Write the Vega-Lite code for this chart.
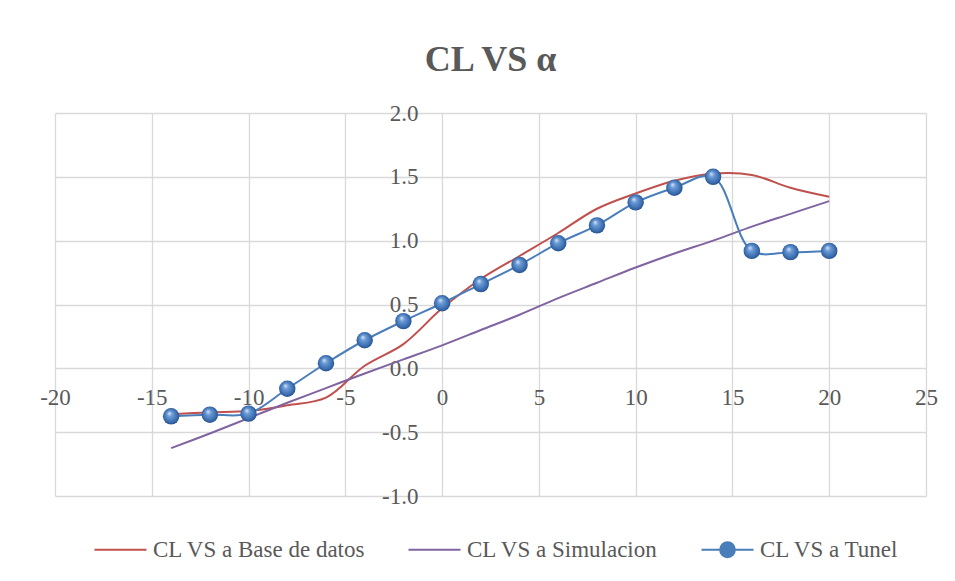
{
  "$schema": "https://vega.github.io/schema/vega-lite/v6.json",
  "width": 871,
  "height": 383,
  "autosize": {"type": "none"},
  "padding": {"left": 55, "top": 113, "right": 29, "bottom": 85},
  "background": "white",
  "title": {
    "text": "CL VS α",
    "font": "Liberation Serif",
    "fontSize": 36,
    "fontWeight": "bold",
    "color": "#595959",
    "anchor": "middle",
    "baseline": "alphabetic",
    "offset": -5
  },
  "config": {
    "view": {"stroke": null},
    "font": "Liberation Serif",
    "locale": {"number": {"decimal": ".", "thousands": ",", "grouping": [3], "currency": ["$", ""], "minus": "-"}}
  },
  "data": {
    "values": [
      {"serie": "CL VS a Base de datos", "a": -14, "cl": -0.36},
      {"serie": "CL VS a Base de datos", "a": -12, "cl": -0.345},
      {"serie": "CL VS a Base de datos", "a": -10, "cl": -0.335},
      {"serie": "CL VS a Base de datos", "a": -8, "cl": -0.29},
      {"serie": "CL VS a Base de datos", "a": -6, "cl": -0.23},
      {"serie": "CL VS a Base de datos", "a": -4, "cl": 0.02},
      {"serie": "CL VS a Base de datos", "a": -2, "cl": 0.19},
      {"serie": "CL VS a Base de datos", "a": 0, "cl": 0.47},
      {"serie": "CL VS a Base de datos", "a": 2, "cl": 0.7},
      {"serie": "CL VS a Base de datos", "a": 4, "cl": 0.88},
      {"serie": "CL VS a Base de datos", "a": 6, "cl": 1.06},
      {"serie": "CL VS a Base de datos", "a": 8, "cl": 1.25},
      {"serie": "CL VS a Base de datos", "a": 10, "cl": 1.37},
      {"serie": "CL VS a Base de datos", "a": 12, "cl": 1.47},
      {"serie": "CL VS a Base de datos", "a": 14, "cl": 1.525},
      {"serie": "CL VS a Base de datos", "a": 16, "cl": 1.515},
      {"serie": "CL VS a Base de datos", "a": 18, "cl": 1.415},
      {"serie": "CL VS a Base de datos", "a": 20, "cl": 1.344},
      {"serie": "CL VS a Simulacion", "a": -14, "cl": -0.625},
      {"serie": "CL VS a Simulacion", "a": -12, "cl": -0.51},
      {"serie": "CL VS a Simulacion", "a": -10, "cl": -0.39},
      {"serie": "CL VS a Simulacion", "a": -8, "cl": -0.27},
      {"serie": "CL VS a Simulacion", "a": -6, "cl": -0.155},
      {"serie": "CL VS a Simulacion", "a": -4, "cl": -0.04},
      {"serie": "CL VS a Simulacion", "a": -2, "cl": 0.07},
      {"serie": "CL VS a Simulacion", "a": 0, "cl": 0.18},
      {"serie": "CL VS a Simulacion", "a": 2, "cl": 0.3},
      {"serie": "CL VS a Simulacion", "a": 4, "cl": 0.42},
      {"serie": "CL VS a Simulacion", "a": 6, "cl": 0.55},
      {"serie": "CL VS a Simulacion", "a": 8, "cl": 0.67},
      {"serie": "CL VS a Simulacion", "a": 10, "cl": 0.79},
      {"serie": "CL VS a Simulacion", "a": 12, "cl": 0.9},
      {"serie": "CL VS a Simulacion", "a": 14, "cl": 1.0},
      {"serie": "CL VS a Simulacion", "a": 16, "cl": 1.11},
      {"serie": "CL VS a Simulacion", "a": 18, "cl": 1.21},
      {"serie": "CL VS a Simulacion", "a": 20, "cl": 1.31},
      {"serie": "CL VS a Tunel", "a": -14, "cl": -0.376},
      {"serie": "CL VS a Tunel", "a": -12, "cl": -0.363},
      {"serie": "CL VS a Tunel", "a": -10, "cl": -0.355},
      {"serie": "CL VS a Tunel", "a": -8, "cl": -0.16},
      {"serie": "CL VS a Tunel", "a": -6, "cl": 0.04},
      {"serie": "CL VS a Tunel", "a": -4, "cl": 0.22},
      {"serie": "CL VS a Tunel", "a": -2, "cl": 0.37},
      {"serie": "CL VS a Tunel", "a": 0, "cl": 0.51},
      {"serie": "CL VS a Tunel", "a": 2, "cl": 0.66},
      {"serie": "CL VS a Tunel", "a": 4, "cl": 0.81},
      {"serie": "CL VS a Tunel", "a": 6, "cl": 0.98},
      {"serie": "CL VS a Tunel", "a": 8, "cl": 1.12},
      {"serie": "CL VS a Tunel", "a": 10, "cl": 1.3},
      {"serie": "CL VS a Tunel", "a": 12, "cl": 1.415},
      {"serie": "CL VS a Tunel", "a": 14, "cl": 1.5},
      {"serie": "CL VS a Tunel", "a": 16, "cl": 0.92},
      {"serie": "CL VS a Tunel", "a": 18, "cl": 0.91},
      {"serie": "CL VS a Tunel", "a": 20, "cl": 0.92}
    ]
  },
  "layer": [
    {
      "mark": {"type": "line", "interpolate": "catmull-rom", "strokeWidth": 2},
      "encoding": {
        "x": {
          "field": "a",
          "type": "quantitative",
          "scale": {"domain": [-20, 25], "nice": false, "zero": false},
          "axis": {
            "title": null,
            "values": [-20, -15, -10, -5, 0, 5, 10, 15, 20, 25],
            "format": "d",
            "offset": -127.3,
            "domain": false,
            "ticks": false,
            "labelPadding": 18,
            "labelFont": "Liberation Serif",
            "labelFontSize": 23,
            "labelColor": "#595959",
            "labelFlush": false,
            "labelOverlap": false,
            "grid": true,
            "gridColor": "#d9d9d9",
            "gridWidth": 1.3
          }
        },
        "y": {
          "field": "cl",
          "type": "quantitative",
          "scale": {"domain": [-1, 2], "nice": false, "zero": false},
          "axis": {
            "title": null,
            "values": [-1, -0.5, 0, 0.5, 1, 1.5, 2],
            "format": ".1f",
            "offset": -387,
            "domain": false,
            "ticks": false,
            "labelPadding": 24,
            "labelFont": "Liberation Serif",
            "labelFontSize": 23,
            "labelColor": "#595959",
            "labelFlush": false,
            "labelOverlap": false,
            "grid": true,
            "gridColor": "#d9d9d9",
            "gridWidth": 1.3
          }
        },
        "color": {
          "field": "serie",
          "type": "nominal",
          "sort": ["CL VS a Base de datos", "CL VS a Simulacion", "CL VS a Tunel"],
          "scale": {
            "domain": ["CL VS a Base de datos", "CL VS a Simulacion", "CL VS a Tunel"],
            "range": ["#c0504d", "#8064a2", "#4a7ebb"]
          },
          "legend": {
            "title": null,
            "orient": "none",
            "direction": "horizontal",
            "legendX": 38,
            "legendY": 409,
            "symbolType": "stroke",
            "symbolSize": 2704,
            "symbolStrokeWidth": 2.2,
            "labelFont": "Liberation Serif",
            "labelFontSize": 23,
            "labelColor": "#595959",
            "labelOffset": 5,
            "columnPadding": 38,
            "labelLimit": 400,
            "encode": {
              "symbols": {
                "update": {
                  "shape": {"signal": "datum.value === 'CL VS a Tunel' ? 'M-1,0H-0.28M0.28,0H1M0.28,0A0.28,0.28,0,1,1,-0.28,0A0.28,0.28,0,1,1,0.28,0Z' : 'M-1,0H1'"},
                  "fill": {"signal": "datum.value === 'CL VS a Tunel' ? '#4a7ebb' : 'transparent'"}
                }
              }
            }
          }
        }
      }
    },
    {
      "transform": [{"filter": "datum.serie === 'CL VS a Tunel'"}],
      "mark": {
        "type": "point",
        "shape": "circle",
        "size": 270,
        "filled": true,
        "opacity": 1,
        "strokeWidth": 0,
        "fill": {
          "gradient": "radial",
          "x1": 0.38, "y1": 0.3, "r1": 0,
          "x2": 0.5, "y2": 0.5, "r2": 0.55,
          "stops": [
            {"offset": 0, "color": "#dce8f7"},
            {"offset": 0.3, "color": "#6b9bd6"},
            {"offset": 0.75, "color": "#3a6db0"},
            {"offset": 1, "color": "#1f487e"}
          ]
        }
      },
      "encoding": {
        "x": {"field": "a", "type": "quantitative"},
        "y": {"field": "cl", "type": "quantitative"}
      }
    }
  ]
}
